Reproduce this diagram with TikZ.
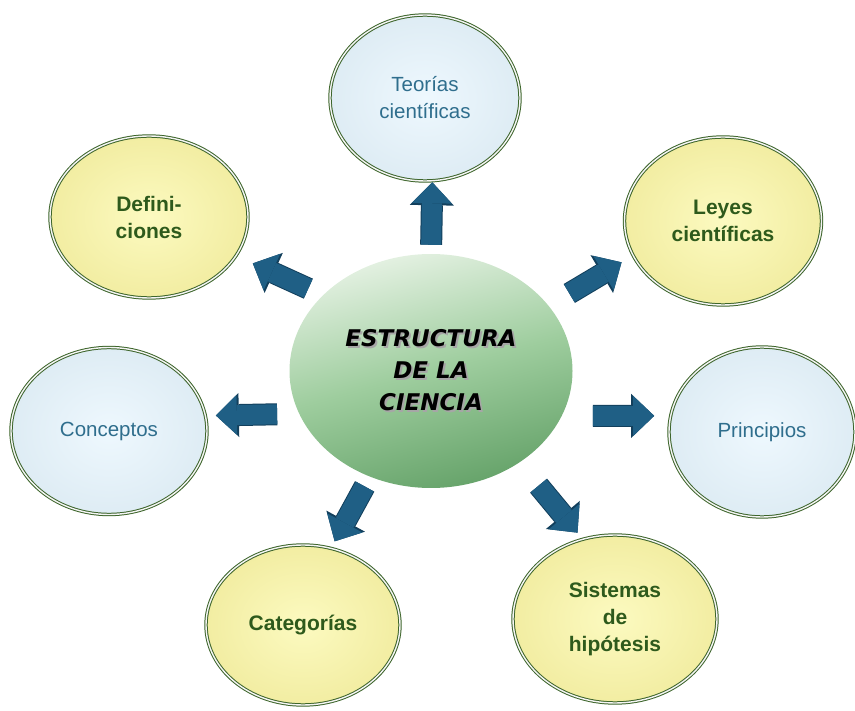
\documentclass[tikz,border=0pt]{standalone}
\usepackage{fontspec}
\setmainfont{Liberation Sans}
\newfontfamily\titulofont{DejaVu Sans}
\usetikzlibrary{shapes.geometric,arrows.meta}
\definecolor{azulflecha}{HTML}{1F5F85}
\definecolor{azuloscuro}{HTML}{123F5C}
\definecolor{bordeverde}{HTML}{3D652B}
\definecolor{textoazul}{HTML}{2F6E8D}
\definecolor{textoverde}{HTML}{2E5A1C}
\definecolor{celestefondo}{HTML}{EEF8FE}
\definecolor{celesteborde}{HTML}{DEECF4}
\definecolor{amarillofondo}{HTML}{FCFAC0}
\definecolor{amarilloborde}{HTML}{F2EDA2}
\definecolor{verdeclaro}{HTML}{E4F1E2}
\definecolor{verdemedio}{HTML}{9ECD9E}
\definecolor{verdeoscuro}{HTML}{66A36A}
\newcommand\consombra[1]{\makebox[0pt][l]{\hspace{2pt}\raisebox{-2.5pt}{\textcolor{black!35}{#1}}}#1}

\begin{document}
\begin{tikzpicture}[x=1pt, y=-1pt,
    elipse/.style={ellipse, draw=bordeverde, line width=1pt, double=white!92!gray, double distance=1.4pt, inner sep=0pt, align=center},
    celeste/.style={elipse, inner color=celestefondo, outer color=celesteborde, text=textoazul, font=\fontsize{20.5}{27}\selectfont},
    amarilla/.style={elipse, inner color=amarillofondo, outer color=amarilloborde, text=textoverde, font=\fontsize{21}{27}\selectfont\bfseries},
    titulo/.style={align=center, font=\fontsize{23}{32}\selectfont\titulofont\bfseries\itshape},
    flecha/.style={line width=20pt, azulflecha, -{Triangle[width=40pt, length=21pt, line width=0pt]},
        preaction={draw=azuloscuro, line width=22pt, -{Triangle[width=44pt, length=23pt, line width=0pt]}}}]
    \useasboundingbox (0,0) rectangle (855,711);

    % centre
    \node [ellipse, minimum width=283pt, minimum height=234pt, top color=verdeclaro, bottom color=verdeoscuro, middle color=verdemedio, shading angle=15] (centro) at (431,371) {};
    \node [titulo] (titulo) at (centro) {\consombra{ESTRUCTURA}\\\consombra{DE LA}\\\consombra{CIENCIA}};

    % outer ellipses
    \node [celeste, minimum width=190pt, minimum height=166pt] (teorias) at (425,98) {Teorías\\científicas};
    \node [amarilla, minimum width=198pt, minimum height=162pt] (definiciones) at (149,217) {Defini-\\ciones};
    \node [amarilla, minimum width=197pt, minimum height=168pt] (leyes) at (723,221) {Leyes\\científicas};
    \node [celeste, minimum width=196pt, minimum height=167pt] (conceptos) at (109,431) {Conceptos};
    \node [celeste, minimum width=186pt, minimum height=170pt] (principios) at (762,432) {Principios};
    \node [amarilla, minimum width=194pt, minimum height=160pt] (categorias) at (303,625) {Categorías};
    \node [amarilla, minimum width=204pt, minimum height=168pt] (sistemas) at (615,619) {Sistemas\\de\\hipótesis};

    \path [flecha, draw, shorten <=9pt, shorten >=1pt] (centro.90) -- (teorias.-85);
    \path [flecha, draw, shorten <=16pt, shorten >=18pt] (centro.145) -- (definiciones.-24);
    \path [flecha, draw, shorten <=24pt, shorten >=13pt] (centro.29) -- (leyes.201);
    \path [flecha, draw, shorten <=22pt, shorten >=10pt] (centro.198.6) -- (conceptos.9.4);
    \path [flecha, draw, shorten <=31pt, shorten >=16pt] (centro.-19) -- (principios.170);
    \path [flecha, draw, shorten <=11pt, shorten >=7.5pt] (centro.240) -- (categorias.70);
    \path [flecha, draw, shorten <=30pt, shorten >=8pt] (centro.-46.5) -- (sistemas.112);
\end{tikzpicture}
\end{document}
